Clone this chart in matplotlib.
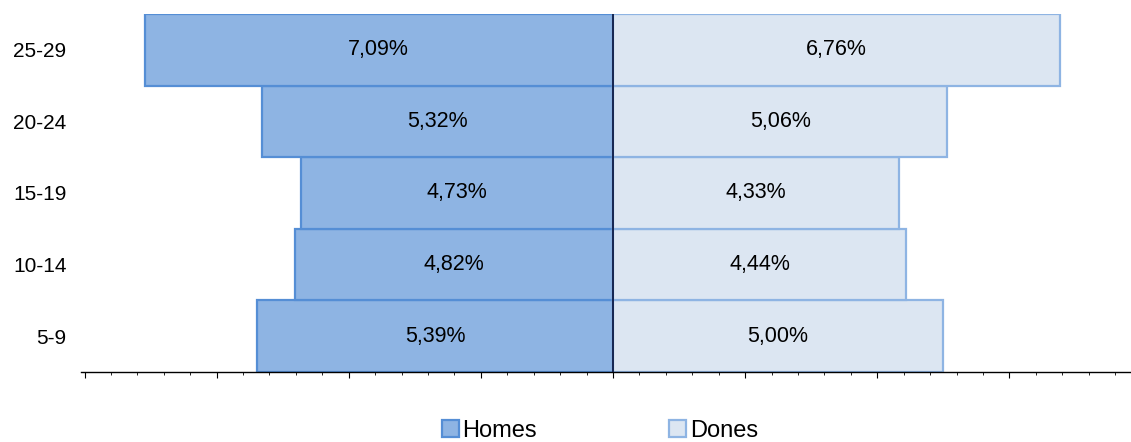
import matplotlib.pyplot as plt
from matplotlib.patches import Patch
from matplotlib.ticker import MultipleLocator
import numpy as np

plt.rcParams['font.family'] = ['Liberation Sans', 'DejaVu Sans']

# age groups, bottom to top
age_groups = ['5-9', '10-14', '15-19', '20-24', '25-29']
homes = [5.39, 4.82, 4.73, 5.32, 7.09]
dones = [5.00, 4.44, 4.33, 5.06, 6.76]

HOMES_FILL = '#8EB4E3'
HOMES_EDGE = '#558ED5'
DONES_FILL = '#DCE6F2'
DONES_EDGE = '#8EB4E3'

W, H = 1131, 442
fig = plt.figure(figsize=(W / 100, H / 100), dpi=100)
# axes runs a bit past the right edge, like the cropped original
ax = fig.add_axes([84.5 / W, 70 / H, 1057 / W, 358 / H])

y = np.arange(len(age_groups))
ax.barh(y, [-v for v in homes], height=1.0, color=HOMES_FILL,
        edgecolor=HOMES_EDGE, linewidth=1.6, zorder=2)
ax.barh(y, dones, height=1.0, color=DONES_FILL,
        edgecolor=DONES_EDGE, linewidth=1.6, zorder=2)
ax.axvline(0, color='#0B1A45', linewidth=1.3, zorder=3)

fmt = lambda v: f'{v:.2f}%'.replace('.', ',')
for yi, h, d in zip(y, homes, dones):
    ax.text(-h / 2, yi, fmt(h), ha='center', va='center', fontsize=15.5, zorder=4)
    ax.text(d / 2, yi, fmt(d), ha='center', va='center', fontsize=15.5, zorder=4)

ax.set_xlim(-8, 8)
ax.set_ylim(-0.5, len(age_groups) - 0.5)
ax.set_yticks(y)
ax.set_yticklabels(age_groups, fontsize=15)
ax.tick_params(axis='y', length=0, pad=13)
ax.xaxis.set_major_locator(MultipleLocator(2))
ax.xaxis.set_minor_locator(MultipleLocator(0.4))
ax.tick_params(axis='x', which='major', length=4, width=0.8, labelbottom=False)
ax.tick_params(axis='x', which='minor', length=2.5, width=0.6)

for side in ['top', 'left', 'right']:
    ax.spines[side].set_visible(False)
ax.spines['bottom'].set_linewidth(1.0)
ax.spines['bottom'].set_bounds(-8.05, 8)

handles = [Patch(facecolor=HOMES_FILL, edgecolor=HOMES_EDGE, linewidth=1.6, label='Homes'),
           Patch(facecolor=DONES_FILL, edgecolor=DONES_EDGE, linewidth=1.6, label='Dones')]
fig.legend(handles=handles, loc='center', bbox_to_anchor=(600 / W, 1 - 431 / H),
           ncol=2, frameon=False, fontsize=17, handlelength=0.72, handleheight=0.72,
           handletextpad=0.15, columnspacing=5.6, borderpad=0)

fig.savefig('out.png', dpi=100)
